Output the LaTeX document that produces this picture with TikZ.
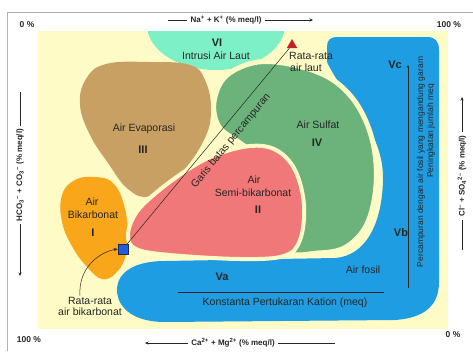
\documentclass[tikz,border=0pt]{standalone}
\usepackage{fontspec}
\setmainfont{Liberation Sans}
\usetikzlibrary{arrows.meta,shapes.geometric}
\definecolor{cbg}{HTML}{FFFBC6}
\definecolor{cteal}{HTML}{7DF0C8}
\definecolor{ctan}{HTML}{C9A064}
\definecolor{corange}{HTML}{F9A61A}
\definecolor{cpink}{HTML}{F07878}
\definecolor{cgreen}{HTML}{6BB37A}
\definecolor{cblue}{HTML}{1E9DE3}
\definecolor{csq}{HTML}{1F5FD8}
\definecolor{csqb}{HTML}{1A2A60}
\definecolor{ctri}{HTML}{C8202A}
\definecolor{ctext}{HTML}{262626}
\begin{document}
\begin{tikzpicture}[x=1pt,y=-1pt,
  lbl/.style={font=\fontsize{10.5}{11}\selectfont, text=ctext, inner sep=1pt},
  num/.style={font=\fontsize{11}{12}\selectfont\bfseries, text=ctext, inner sep=1pt},
  axl/.style={font=\fontsize{8}{9}\selectfont\bfseries, text=ctext, inner sep=3pt},
  pct/.style={font=\fontsize{8.5}{9}\selectfont\bfseries, text=ctext, inner sep=1pt},
  axline/.style={line width=0.6pt, draw=ctext},
  axarrow/.style={axline, -{Stealth[length=3.5pt,width=3pt]}},
]
\useasboundingbox (0,0) rectangle (473,351);
\fill[white] (0,0) rectangle (473,351);
\draw[gray!60, line width=1pt] (7,351) -- (7,12) -- (473,12);
\fill[cbg] (38,31) rectangle (448,329);

% VI
\begin{scope}
  \clip (38,31) rectangle (448,329);
  \fill[cteal] (216,25) ellipse [x radius=69, y radius=45];
\end{scope}

% III
\fill[ctan] plot[smooth cycle, tension=0.7] coordinates {(80,105) (86,79) (106,64) (150,62) (190,65) (205,80) (211,110) (204,140) (180,174) (150,196) (128,189) (108,163) (90,135)};

% I
\fill[corange] plot[smooth cycle, tension=0.7] coordinates {(62,195) (75,180) (95,177) (113,183) (124,205) (128,235) (125,258) (115,274) (102,279) (88,268) (73,248) (62,222)};

% blue
\fill[cblue] (327,62) -- (327,47) .. controls (327,40) and (330,37) .. (338,37) -- (427,37) .. controls (435,37) and (439,41) .. (439,50) -- (439,282) .. controls (439,305) and (425,318) .. (395,320) -- (165,322) .. controls (130,322) and (117,305) .. (117,290) .. controls (117,272) and (135,261) .. (165,261) -- (335,258) .. controls (365,256) and (382,225) .. (383,180) .. controls (384,130) and (345,100) .. (327,62) -- cycle;

% IV
\filldraw[fill=cgreen, draw=cbg, line width=5pt] plot[smooth cycle, tension=0.6] coordinates {(214,102) (226,76) (258,62) (298,66) (333,80) (358,106) (373,143) (376,185) (367,224) (346,247) (318,253) (285,250) (270,200) (260,160) (240,143) (219,127)};

% II
\filldraw[fill=cpink, draw=cbg, line width=4pt] plot[smooth cycle, tension=0.6] coordinates {(128,235) (136,213) (157,192) (187,170) (215,155) (250,146) (276,150) (295,170) (304,205) (300,240) (284,256) (240,259) (170,255) (136,249)};

% mixing line
\coordinate (sqc) at (123,249);
\coordinate (tric) at (292,45);
\draw[ctext, line width=0.5pt] (sqc) -- (tric);
\node[lbl, rotate=50.7] (gb) at (231,141) {Garis batas percampuran};
\node[draw=csqb, fill=csq, line width=0.6pt, minimum size=10pt, inner sep=0pt] (sq) at (sqc) {};
\node[regular polygon, regular polygon sides=3, fill=ctri, minimum size=12pt, inner sep=0pt] (tri) at (tric) {};

% labels
\node[num] (n6) at (217,43) {VI};
\node[lbl] (t6) at (216,56) {Intrusi Air Laut};
\node[lbl, anchor=west] (rl1) at (288,56) {Rata-rata};
\node[lbl, anchor=west] (rl2) at (289,68) {air laut};
\node[lbl] (t3) at (144,129) {Air Evaporasi};
\node[num] (n3) at (143,150) {III};
\node[lbl] (t1a) at (92,202) {Air};
\node[lbl] (t1b) at (93,215) {Bikarbonat};
\node[num] (n1) at (93,233) {I};
\node[lbl] (t2a) at (254,180) {Air};
\node[lbl] (t2b) at (253,193) {Semi-bikarbonat};
\node[num] (n2) at (258,210) {II};
\node[lbl] (t4) at (318,125) {Air Sulfat};
\node[num] (n4) at (317,143) {IV};
\node[num] (vc) at (395,65) {Vc};
\node[num] (vb) at (401,233) {Vb};
\node[num] (va) at (222,277) {Va};
\node[lbl] (fos) at (363,270) {Air fosil};
\node[lbl] (kpk) at (285,303) {Konstanta Pertukaran Kation (meq)};
\coordinate (val) at (178,292);
\coordinate (var) at (384,292);
\draw[ctext, line width=0.5pt] (val) -- (var);
\coordinate (vbot) at (408,288);
\coordinate (vtop) at (408,65);
\draw[ctext, line width=0.5pt, -{Stealth[length=3pt,width=2.5pt]}] (vbot) -- (vtop);
\node[lbl, rotate=90, font=\fontsize{8.5}{9}\selectfont] (pc1) at (421,162) {Percampuran dengan air fosil yang mengandung garam};
\node[lbl, rotate=90, font=\fontsize{8.5}{9}\selectfont] (pc2) at (431,131) {Peningkatan jumlah meq};

\node[lbl, align=center] (rab) at (90,306) {Rata-rata\\air bikarbonat};
\draw[ctext, line width=0.5pt, -{Stealth[length=4pt,width=3pt]}] ([xshift=-10pt]rab.north) .. controls +(-2,-28) and +(-18,3) .. (sq.west);

% axes
\node[pct] (p1) at (27,25) {0 \%};
\node[pct] (p2) at (449,25) {100 \%};
\node[pct] (p3) at (29,340) {100 \%};
\node[pct] (p4) at (453,335) {0 \%};

\node[axl] (tx) at (226,20) {Na\textsuperscript{+} + K\textsuperscript{+} (\% meq/l)};
\coordinate (txl) at (168,20);
\coordinate (txr) at (313,20);
\draw[axline] (txl) -- (tx.west);
\draw[axarrow] (tx.east) -- (txr);

\node[axl] (bx) at (233,343) {Ca\textsuperscript{2+} + Mg\textsuperscript{2+} (\% meq/l)};
\coordinate (bxl) at (145,343);
\coordinate (bxr) at (335,343);
\draw[axarrow] (bx.west) -- (bxl);
\draw[axline] (bx.east) -- (bxr);

\node[axl, rotate=90] (ly) at (20,175) {HCO\textsubscript{3}\textsuperscript{--} + CO\textsubscript{3}\textsuperscript{--} (\% meq/l)};
\coordinate (lyt) at (20,92);
\coordinate (lyb) at (20,276);
\draw[axline] (lyt) -- (ly.east);
\draw[axarrow] (ly.west) -- (lyb);

\node[axl, rotate=90] (ry) at (462,176) {Cl\textsuperscript{--} + SO\textsubscript{4}\textsuperscript{2--} (\% meq/l)};
\coordinate (ryt) at (462,97);
\coordinate (ryb) at (462,250);
\draw[axline] (ryb) -- (ry.west);
\draw[axarrow] (ry.east) -- (ryt);
\end{tikzpicture}
\end{document}
